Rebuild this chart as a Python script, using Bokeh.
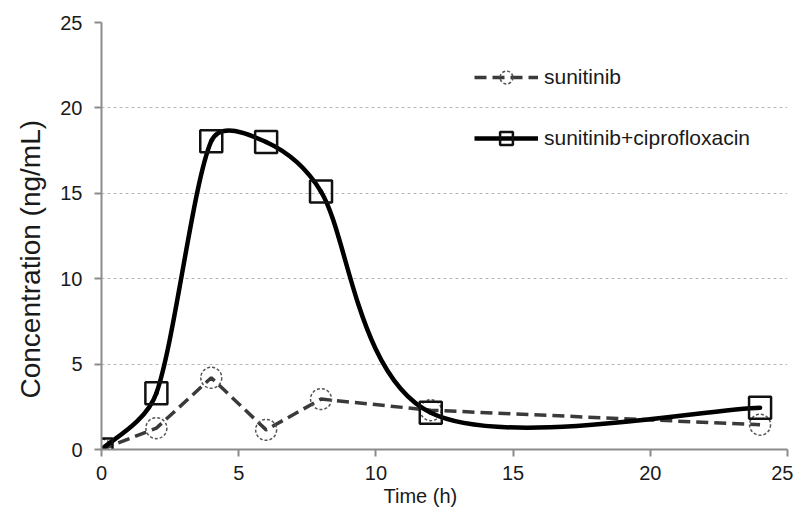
import numpy as np
from bokeh.plotting import figure
from bokeh.models import Range1d, ColumnDataSource, Legend, LegendItem, FixedTicker, Title
from bokeh.embed import file_html
from bokeh.resources import INLINE

# ---- data ----
time_h = [0, 2, 4, 6, 8, 12, 24]
sunitinib = [0.0, 1.25, 4.2, 1.15, 2.95, 2.3, 1.45]
sunitinib_cipro = [0.0, 3.3, 18.05, 18.0, 15.1, 2.15, 2.45]
x_ticks = [0, 5, 10, 15, 20, 25]
y_ticks = [0, 5, 10, 15, 20, 25]
series_names = ["sunitinib", "sunitinib+ciprofloxacin"]
x_title = "Time (h)"
y_title = "Concentration (ng/mL)"

W, H = 793, 512
BL, BR, BT, BB = 100, 6, 22, 63
FRAME_W, FRAME_H = W - BL - BR, H - BT - BB
X0, X1, Y0, Y1 = 0, 25, 0, 25
FONT = "Liberation Sans"

p = figure(width=W, height=H, output_backend="svg", toolbar_location=None,
           x_range=Range1d(X0, X1), y_range=Range1d(Y0, Y1),
           min_border_left=BL, min_border_right=BR,
           min_border_top=BT, min_border_bottom=BB)
p.outline_line_color = None
p.background_fill_color = "white"
p.border_fill_color = "white"


def smooth_segments(xs, ys, k=1/6, clamp=0.4):
    """Excel-like smoothed line: cubic Bezier control points computed from the data."""
    sx = FRAME_W / (X1 - X0)
    sy = FRAME_H / (Y1 - Y0)
    P = np.column_stack([np.asarray(xs, float) * sx, np.asarray(ys, float) * sy])
    n = len(P)
    out = dict(x0=[], y0=[], x1=[], y1=[], cx0=[], cy0=[], cx1=[], cy1=[])
    for i in range(n - 1):
        a = P[i - 1] if i > 0 else P[i]
        b, c = P[i], P[i + 1]
        d = P[i + 2] if i + 2 < n else P[i + 1]
        seg = np.hypot(*(c - b))
        t1 = k * (c - a)
        t2 = k * (d - b)
        for t in (t1, t2):
            L = np.hypot(*t)
            if L > clamp * seg and L > 0:
                t *= clamp * seg / L
        c1 = b + t1
        c2 = c - t2
        out["x0"].append(b[0] / sx); out["y0"].append(b[1] / sy)
        out["x1"].append(c[0] / sx); out["y1"].append(c[1] / sy)
        out["cx0"].append(c1[0] / sx); out["cy0"].append(c1[1] / sy)
        out["cx1"].append(c2[0] / sx); out["cy1"].append(c2[1] / sy)
    return out


src = ColumnDataSource(dict(t=time_h, s=sunitinib, sc=sunitinib_cipro))

# sunitinib: dashed straight line + dashed open circles
r_s_line = p.line("t", "s", source=src, line_color="#3a3a3a", line_width=3.5,
                  line_dash="12 6")
r_s_mark = p.scatter("t", "s", source=src, marker="circle", size=21,
                     fill_color=None, line_color="#555555", line_width=1.5,
                     line_dash="3 2")

# sunitinib+ciprofloxacin: smoothed solid line + open squares
r_c_curve = p.bezier(source=ColumnDataSource(smooth_segments(time_h, sunitinib_cipro)),
                     x0="x0", y0="y0", x1="x1", y1="y1",
                     cx0="cx0", cy0="cy0", cx1="cx1", cy1="cy1",
                     line_color="black", line_width=4.5, line_cap="round")
# legend-only line sample (no drawable points in the plot)
r_c_legend_line = p.line(x=[np.nan], y=[np.nan], line_color="black", line_width=4.5)
r_c_mark = p.scatter("t", "sc", source=src, marker="square", size=22,
                     fill_color=None, line_color="#111111", line_width=2.5)

# axes
for ax, ticks in ((p.xaxis[0], x_ticks), (p.yaxis[0], y_ticks)):
    ax.ticker = FixedTicker(ticks=ticks)
    ax.minor_tick_line_color = None
    ax.major_tick_in = 0
    ax.major_tick_out = 7
    ax.major_tick_line_color = "#8c8c8c"
    ax.major_tick_line_width = 2
    ax.axis_line_color = "#8c8c8c"
    ax.axis_line_width = 2
    ax.major_label_text_font = FONT
    ax.major_label_text_font_size = "20px"
    ax.major_label_text_color = "#1a1a1a"

p.xaxis.major_label_standoff = 9
p.yaxis.major_label_standoff = 12

# axis titles as side-panel titles (slightly off-centre, as in the reference)
p.add_layout(Title(text=x_title, align="left", offset=282, standoff=0,
                   text_font=FONT, text_font_size="20px", text_font_style="normal",
                   text_color="#1a1a1a"), "below")
p.add_layout(Title(text=y_title, align="left", offset=51, standoff=24,
                   text_font=FONT, text_font_size="28px", text_font_style="normal",
                   text_color="#1a1a1a"), "left")

p.xgrid.visible = False
p.ygrid.ticker = FixedTicker(ticks=y_ticks)
p.ygrid.grid_line_color = "#b8b8b8"
p.ygrid.grid_line_width = 1
p.ygrid.grid_line_dash = "3 3"

legend = Legend(items=[
    LegendItem(label=series_names[0], renderers=[r_s_line, r_s_mark]),
    LegendItem(label=series_names[1], renderers=[r_c_legend_line, r_c_mark]),
], location=(373, 295))
legend.glyph_width = 64
legend.glyph_height = 32
legend.spacing = 29
legend.padding = 0
legend.margin = 0
legend.label_standoff = 6
legend.label_text_font = FONT
legend.label_text_font_size = "21px"
legend.label_text_color = "#1a1a1a"
legend.border_line_color = None
legend.background_fill_alpha = 0
p.add_layout(legend)

open("out.html", "w").write(file_html(p, INLINE))
